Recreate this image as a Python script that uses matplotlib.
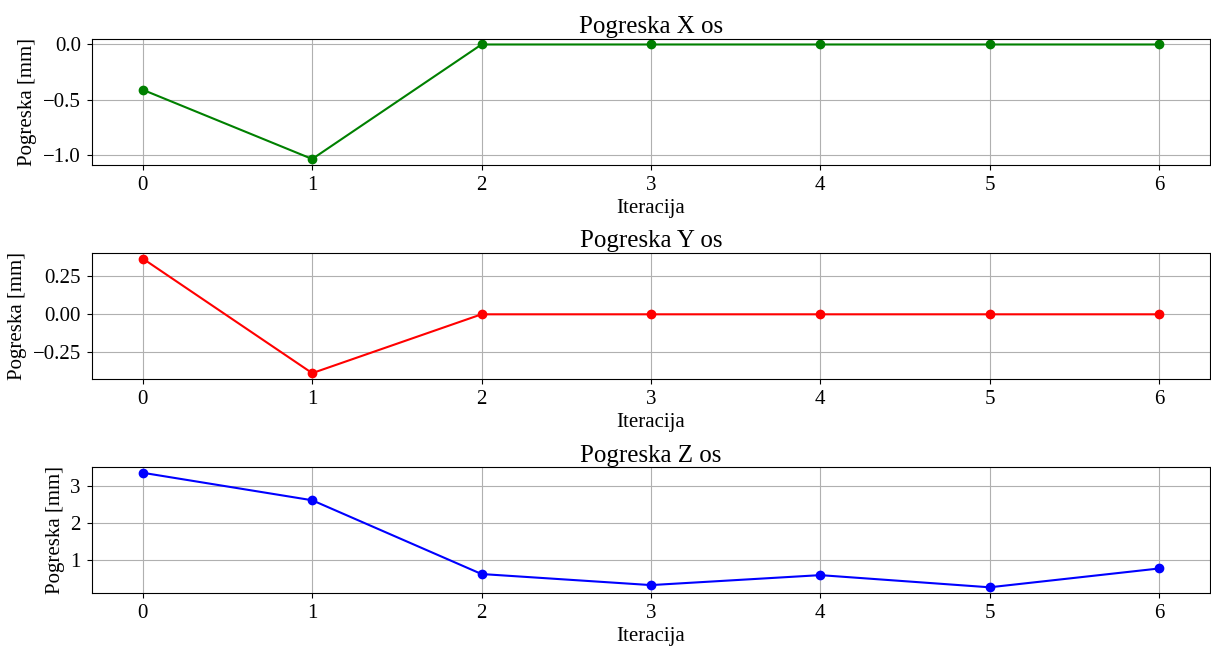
import numpy as np
import matplotlib.pyplot as plt

plt.rcParams['font.family'] = ['Liberation Serif', 'DejaVu Serif']

# Podaci
iteracije = [0, 1, 2, 3, 4, 5, 6]
pogreska_x = [-0.41, -1.036, 0.0, 0.0, 0.0, 0.0, 0.0]
pogreska_y = [0.367, -0.388, 0.0, 0.0, 0.0, 0.0, 0.0]
pogreska_z = [3.365, 2.62, 0.62, 0.32, 0.59, 0.26, 0.77]

naslovi = ["Pogreska X os", "Pogreska Y os", "Pogreska Z os"]
boje = ["green", "red", "blue"]
serije = [pogreska_x, pogreska_y, pogreska_z]

fig, axes = plt.subplots(3, 1, figsize=(12.11, 6.46), dpi=100)
fig.subplots_adjust(left=0.076, right=0.999, top=0.94, bottom=0.082, hspace=0.70)

for ax, naslov, boja, vrijednosti in zip(axes, naslovi, boje, serije):
    ax.plot(iteracije, vrijednosti, marker='o', color=boja)
    ax.set_title(naslov, fontsize=18, pad=4)
    ax.set_xlabel("Iteracija", fontsize=15, labelpad=3)
    ax.set_ylabel("Pogreska [mm]", fontsize=15)
    ax.tick_params(labelsize=15, pad=4.5)
    ax.grid(True)

plt.savefig("out.png", dpi=100)
